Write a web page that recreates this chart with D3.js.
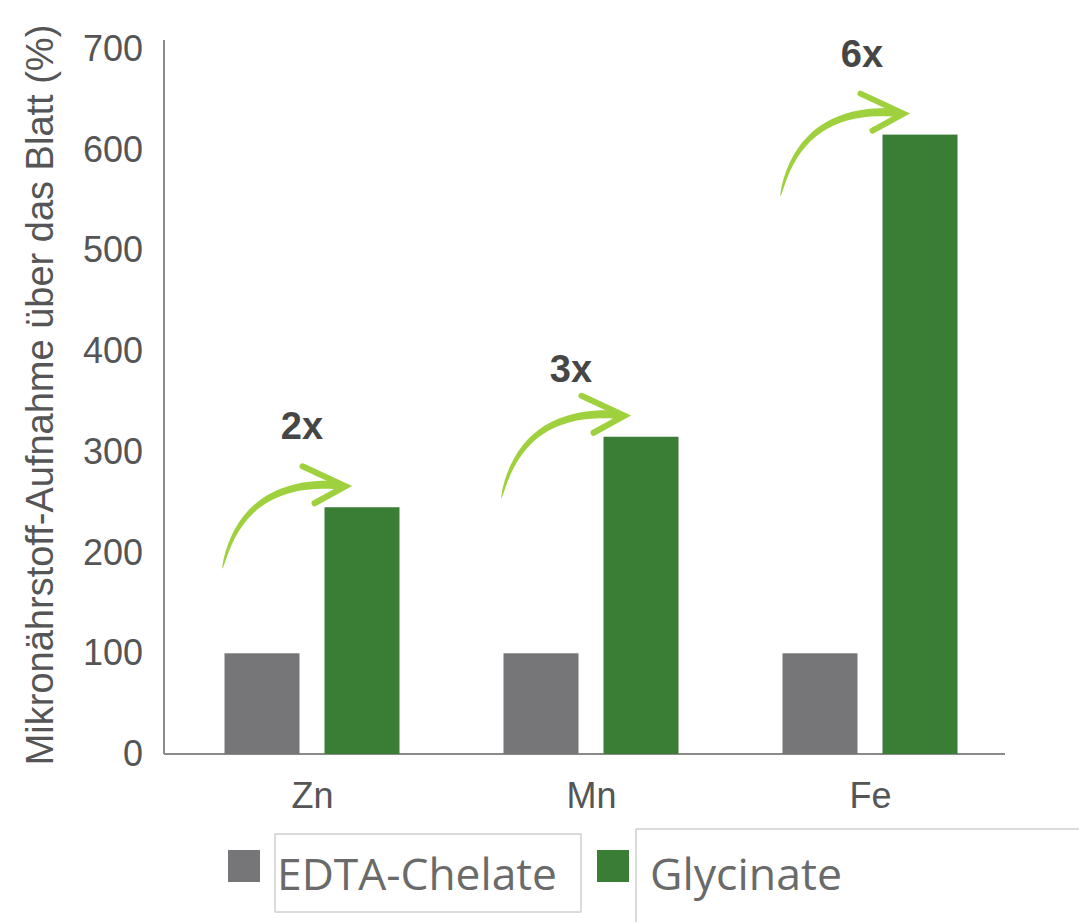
<!DOCTYPE html>
<html lang="de">
	<head>
		<meta charset="utf-8">
		<title>Mikronährstoff-Aufnahme über das Blatt</title>
		<script type="text/javascript" src="https://d3js.org/d3.v7.min.js"></script>
		<style type="text/css">
			body { margin: 0; background: #fff; }
			text { font-family: "Liberation Sans", Arial, sans-serif; }
		</style>
	</head>
	<body>
		<script type="text/javascript">

			//Data
			var categories = ["Zn", "Mn", "Fe"];
			var seriesNames = ["EDTA-Chelate", "Glycinate"];
			var edta = [100, 100, 100];
			var glycinate = [245, 315, 615];
			var factors = ["2x", "3x", "6x"];
			var yTicks = [0, 100, 200, 300, 400, 500, 600, 700];

			var colors = { "EDTA-Chelate": "#767679", "Glycinate": "#3a7d34" };
			var arrowColor = "#9fd13f";

			//Width and height
			var w = 1079;
			var h = 922;
			var axisX = 164, baseY = 754;

			var svg = d3.select("body")
						.append("svg")
						.attr("width", w)
						.attr("height", h);

			//Scales
			var y = d3.scaleLinear()
				.domain([0, 700])
				.range([baseY, baseY - 705]);

			var x0 = d3.scalePoint()
				.domain(categories)
				.range([312, 870]);

			var x1 = d3.scaleBand()
				.domain(seriesNames)
				.range([-87.5, 87.5])
				.paddingInner(0.25);

			//Axes
			var yAxis = svg.append("g")
				.attr("transform", "translate(" + axisX + ",0)")
				.call(d3.axisLeft(y).tickValues(yTicks).tickSize(0).tickPadding(21));
			yAxis.select(".domain").attr("d", "M0," + (baseY - 714) + "V" + baseY)
				.attr("stroke", "#8a8a8a").attr("stroke-width", 2);
			yAxis.selectAll("text")
				.attr("font-size", 36)
				.attr("fill", "#555")
				.style("font-family", "'Liberation Sans', Arial, sans-serif");

			var xAxis = svg.append("g")
				.attr("transform", "translate(0," + baseY + ")")
				.call(d3.axisBottom(x0).tickSize(0).tickPadding(28));
			xAxis.select(".domain").attr("d", "M" + axisX + ",0H1005")
				.attr("stroke", "#8a8a8a").attr("stroke-width", 2);
			xAxis.selectAll("text")
				.attr("font-size", 36)
				.attr("fill", "#555")
				.style("font-family", "'Liberation Sans', Arial, sans-serif");

			//Y title
			svg.append("text")
				.attr("transform", "translate(53," + 395 + ") rotate(-90)")
				.attr("text-anchor", "middle")
				.attr("font-size", 38)
				.attr("fill", "#555")
				.text("Mikronährstoff-Aufnahme über das Blatt (%)");

			//Bars
			var rows = categories.map(function(c, i) {
				return { cat: c, values: [ { s: seriesNames[0], v: edta[i] }, { s: seriesNames[1], v: glycinate[i] } ] };
			});

			var groups = svg.selectAll("g.grp")
				.data(rows)
				.enter()
				.append("g")
				.attr("class", "grp")
				.attr("transform", function(d) { return "translate(" + x0(d.cat) + ",0)"; });

			groups.selectAll("rect")
				.data(function(d) { return d.values; })
				.enter()
				.append("rect")
				.attr("x", function(d) { return x1(d.s); })
				.attr("y", function(d) { return y(d.v); })
				.attr("width", x1.bandwidth())
				.attr("height", function(d) { return baseY - y(d.v); })
				.attr("fill", function(d) { return colors[d.s]; });

			//Arrows: tapered curved shaft + chevron head
			function bez(t, p0, c, p2) {
				var a = (1 - t) * (1 - t), b = 2 * t * (1 - t), e = t * t;
				return [a * p0[0] + b * c[0] + e * p2[0], a * p0[1] + b * c[1] + e * p2[1]];
			}
			var p0 = [0, 0], pc = [20, -90], p2 = [117, -83];
			var outer = [], inner = [];
			d3.range(0, 1.0001, 0.05).forEach(function(t) {
				var p = bez(t, p0, pc, p2);
				var q = bez(Math.min(t + 0.01, 1), p0, pc, p2), r = bez(Math.max(t - 0.01, 0), p0, pc, p2);
				var dx = q[0] - r[0], dy = q[1] - r[1], len = Math.sqrt(dx * dx + dy * dy);
				var nx = -dy / len, ny = dx / len, half = (0.8 + 7.5 * Math.sqrt(t)) / 2;
				outer.push([p[0] + nx * half, p[1] + ny * half]);
				inner.push([p[0] - nx * half, p[1] - ny * half]);
			});
			var shaft = outer.concat(inner.reverse());

			var arrows = groups.append("g")
				.attr("transform", function(d, i) {
					return "translate(" + (x1(seriesNames[0]) - 2) + "," + (y(glycinate[i]) + 61) + ")";
				});
			arrows.append("path")
				.attr("d", d3.line()(shaft) + "Z")
				.attr("fill", arrowColor);
			arrows.append("path")
				.attr("d", "M80,-102 L123,-82 L92,-65")
				.attr("fill", "none")
				.attr("stroke", arrowColor)
				.attr("stroke-width", 6)
				.attr("stroke-linecap", "round")
				.attr("stroke-linejoin", "miter");

			//Factor labels
			var labelDx = [-10, -20, -8];
			var labelDy = [68, 55, 68];
			groups.append("text")
				.attr("x", function(d, i) { return labelDx[i]; })
				.attr("y", function(d, i) { return y(glycinate[i]) - labelDy[i]; })
				.attr("text-anchor", "middle")
				.attr("font-size", 38)
				.attr("font-weight", "bold")
				.attr("fill", "#464646")
				.text(function(d, i) { return factors[i]; });

			//Legend
			var legendX = [228, 597];
			var boxes = [[275, 834, 306, 78], [636, 829, 460, 110]];
			var textW = [280, 192];
			var legend = svg.selectAll("g.leg")
				.data(seriesNames)
				.enter()
				.append("g")
				.attr("class", "leg");
			legend.append("rect")
				.attr("x", function(d, i) { return boxes[i][0]; })
				.attr("y", function(d, i) { return boxes[i][1]; })
				.attr("width", function(d, i) { return boxes[i][2]; })
				.attr("height", function(d, i) { return boxes[i][3]; })
				.attr("fill", "#fff")
				.attr("stroke", "#c4c4c4")
				.attr("stroke-width", 1.2);
			legend.append("rect")
				.attr("x", function(d, i) { return legendX[i]; })
				.attr("y", 850)
				.attr("width", 32)
				.attr("height", 32)
				.attr("fill", function(d) { return colors[d]; });
			legend.append("text")
				.attr("x", function(d, i) { return legendX[i] + (i === 0 ? 49 : 53); })
				.attr("y", 890)
				.attr("font-size", 44)
				.attr("textLength", function(d, i) { return textW[i]; })
				.attr("lengthAdjust", "spacingAndGlyphs")
				.attr("fill", "#6a6a6a")
				.style("font-family", "'Open Sans', 'Liberation Sans', sans-serif")
				.text(function(d) { return d; });

		</script>
	</body>
</html>
